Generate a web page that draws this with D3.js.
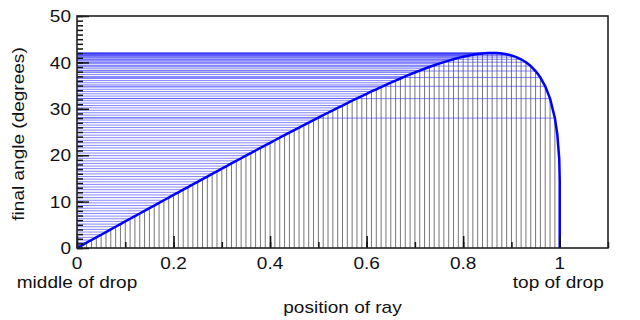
<!DOCTYPE html>
<html>
<head>
<meta charset="utf-8">
<script src="https://cdn.jsdelivr.net/npm/d3@7"></script>
<style>
  body { margin: 0; background: #fff; }
  svg text { font-family: "Liberation Sans", Arial, sans-serif; font-size: 17px; fill: #111; }
</style>
</head>
<body>
<svg id="drawing_region"></svg>
<script>
// position of the ray across the drop (0 = middle, 1 = top)
const rayPos = [
  0.01, 0.02, 0.03, 0.04, 0.05, 0.06, 0.07, 0.08, 0.09, 0.10,
  0.11, 0.12, 0.13, 0.14, 0.15, 0.16, 0.17, 0.18, 0.19, 0.20,
  0.21, 0.22, 0.23, 0.24, 0.25, 0.26, 0.27, 0.28, 0.29, 0.30,
  0.31, 0.32, 0.33, 0.34, 0.35, 0.36, 0.37, 0.38, 0.39, 0.40,
  0.41, 0.42, 0.43, 0.44, 0.45, 0.46, 0.47, 0.48, 0.49, 0.50,
  0.51, 0.52, 0.53, 0.54, 0.55, 0.56, 0.57, 0.58, 0.59, 0.60,
  0.61, 0.62, 0.63, 0.64, 0.65, 0.66, 0.67, 0.68, 0.69, 0.70,
  0.71, 0.72, 0.73, 0.74, 0.75, 0.76, 0.77, 0.78, 0.79, 0.80,
  0.81, 0.82, 0.83, 0.84, 0.85, 0.86, 0.87, 0.88, 0.89, 0.90,
  0.91, 0.92, 0.93, 0.94, 0.95, 0.96, 0.97, 0.98, 0.99
];
// final angle (degrees) for each ray
const finalAngle = [
  0.57, 1.15, 1.72, 2.29, 2.86, 3.44, 4.01, 4.58, 5.15, 5.73,
  6.30, 6.87, 7.44, 8.01, 8.58, 9.15, 9.72, 10.29, 10.86, 11.43,
  12.00, 12.57, 13.14, 13.71, 14.27, 14.84, 15.40, 15.97, 16.53, 17.10,
  17.66, 18.22, 18.78, 19.34, 19.90, 20.46, 21.01, 21.57, 22.12, 22.67,
  23.22, 23.77, 24.32, 24.87, 25.41, 25.95, 26.49, 27.03, 27.57, 28.10,
  28.63, 29.15, 29.68, 30.20, 30.71, 31.23, 31.74, 32.24, 32.74, 33.24,
  33.73, 34.21, 34.69, 35.16, 35.62, 36.08, 36.53, 36.97, 37.40, 37.82,
  38.23, 38.63, 39.01, 39.38, 39.74, 40.07, 40.39, 40.69, 40.97, 41.22,
  41.44, 41.64, 41.80, 41.92, 42.00, 42.03, 42.01, 41.92, 41.75, 41.50,
  41.15, 40.67, 40.04, 39.21, 38.14, 36.74, 34.85, 32.19, 28.00
];
// where the curve starts and how it ends at the top of the drop
const curveStartPos = [0];
const curveStartAngle = [0];
const curveEndPos = [0.995, 0.999, 1.0, 1.0];
const curveEndAngle = [24.5, 19.2, 14.4, 0];

const xTicksMajor = [0, 0.2, 0.4, 0.6, 0.8, 1];
const xTickLabels = ['0', '0.2', '0.4', '0.6', '0.8', '1'];
const yTicksMajor = [0, 10, 20, 30, 40, 50];

const config = {
    width: 640,
    height: 320,
    margin: {top: 16, right: 32, bottom: 72, left: 77},
    textStretch: 1.12,
    label: {xaxis: 'position of ray', yaxis: 'final angle (degrees)',
            left: 'middle of drop', right: 'top of drop'}
};

const svg = d3.select('#drawing_region')
    .attr('width', config.width)
    .attr('height', config.height);

const inner_width = config.width - config.margin.left - config.margin.right;
const inner_height = config.height - config.margin.top - config.margin.bottom;

const chart = svg.append('g')
    .attr('transform', `translate(${config.margin.left}, ${config.margin.top})`);

const xscale = d3.scaleLinear().domain([0, 1.1]).range([0, inner_width]);
const yscale = d3.scaleLinear().domain([0, 50]).range([inner_height, 0]);

const rays = rayPos.map((p, i) => ({pos: p, angle: finalAngle[i]}));

// vertical gray lines
chart.append('g')
    .selectAll('line')
    .data(rays)
    .join('line')
    .attr('x1', d => xscale(d.pos))
    .attr('x2', d => xscale(d.pos))
    .attr('y1', yscale(0))
    .attr('y2', d => yscale(d.angle))
    .attr('stroke', '#777')
    .attr('stroke-width', 1);

// horizontal blue lines
chart.append('g')
    .selectAll('line')
    .data(rays)
    .join('line')
    .attr('x1', xscale(0))
    .attr('x2', d => xscale(d.pos))
    .attr('y1', d => yscale(d.angle))
    .attr('y2', d => yscale(d.angle))
    .attr('stroke', '#3333ff')
    .attr('stroke-opacity', 0.6)
    .attr('stroke-width', 1);

// curve
const curvePts = []
    .concat(curveStartPos.map((p, i) => [p, curveStartAngle[i]]))
    .concat(rays.map(d => [d.pos, d.angle]))
    .concat(curveEndPos.map((p, i) => [p, curveEndAngle[i]]));

chart.append('path')
    .datum(curvePts)
    .attr('d', d3.line().x(d => xscale(d[0])).y(d => yscale(d[1])))
    .attr('fill', 'none')
    .attr('stroke', '#0000ff')
    .attr('stroke-width', 2.5)
    .attr('stroke-linejoin', 'round');

// axes with inward ticks
const yMinor = d3.scaleLinear().domain([0, 50]).ticks(50);
const xMinor = d3.scaleLinear().domain([0, 1.1]).ticks(11);

const yaxis = d3.axisRight(yscale).tickValues(yMinor)
    .tickSize(6).tickSizeOuter(0).tickFormat('');
const yaxisMajor = d3.axisRight(yscale).tickValues(yTicksMajor)
    .tickSize(12).tickSizeOuter(0).tickFormat('');
const xaxis = d3.axisTop(xscale).tickValues(xMinor)
    .tickSize(6).tickSizeOuter(0).tickFormat('');
const xaxisMajor = d3.axisTop(xscale).tickValues(xTicksMajor)
    .tickSize(12).tickSizeOuter(0).tickFormat('');

[yaxis, yaxisMajor].forEach(a => {
    chart.append('g').call(a)
        .call(g => g.select('.domain').remove())
        .selectAll('line').attr('stroke', '#111').attr('stroke-width', 1.5);
});
[xaxis, xaxisMajor].forEach(a => {
    chart.append('g').attr('transform', `translate(0, ${inner_height})`).call(a)
        .call(g => g.select('.domain').remove())
        .selectAll('line').attr('stroke', '#111').attr('stroke-width', 1.5);
});

// frame
chart.append('rect')
    .attr('x', 0).attr('y', 0)
    .attr('width', inner_width).attr('height', inner_height)
    .attr('fill', 'none')
    .attr('stroke', '#222')
    .attr('stroke-width', 1.6);

// the original text is a little wider than it is tall
const s = config.textStretch;
const place = (x, y) => `translate(${x}, ${y}) scale(${s}, 1)`;

// tick labels
chart.append('g')
    .selectAll('text')
    .data(yTicksMajor)
    .join('text')
    .attr('transform', d => place(-6, yscale(d)))
    .attr('dy', '0.36em')
    .attr('text-anchor', 'end')
    .text(d => d);

chart.append('g')
    .selectAll('text')
    .data(xTicksMajor)
    .join('text')
    .attr('transform', d => place(xscale(d), inner_height + 21))
    .attr('text-anchor', 'middle')
    .text((d, i) => xTickLabels[i]);

// axis titles
chart.append('text')
    .attr('transform', place(xscale(0), inner_height + 40))
    .attr('text-anchor', 'middle')
    .text(config.label.left);

chart.append('text')
    .attr('transform', place(xscale(0.997), inner_height + 40))
    .attr('text-anchor', 'middle')
    .text(config.label.right);

svg.append('text')
    .attr('transform', place(config.margin.left + xscale(0.55), config.height - 7))
    .attr('text-anchor', 'middle')
    .text(config.label.xaxis);

svg.append('text')
    .attr('text-anchor', 'middle')
    .attr('transform', `translate(24, ${config.margin.top + inner_height / 2 + 2}) rotate(-90) scale(${s}, 1)`)
    .text(config.label.yaxis);
</script>
</body>
</html>
